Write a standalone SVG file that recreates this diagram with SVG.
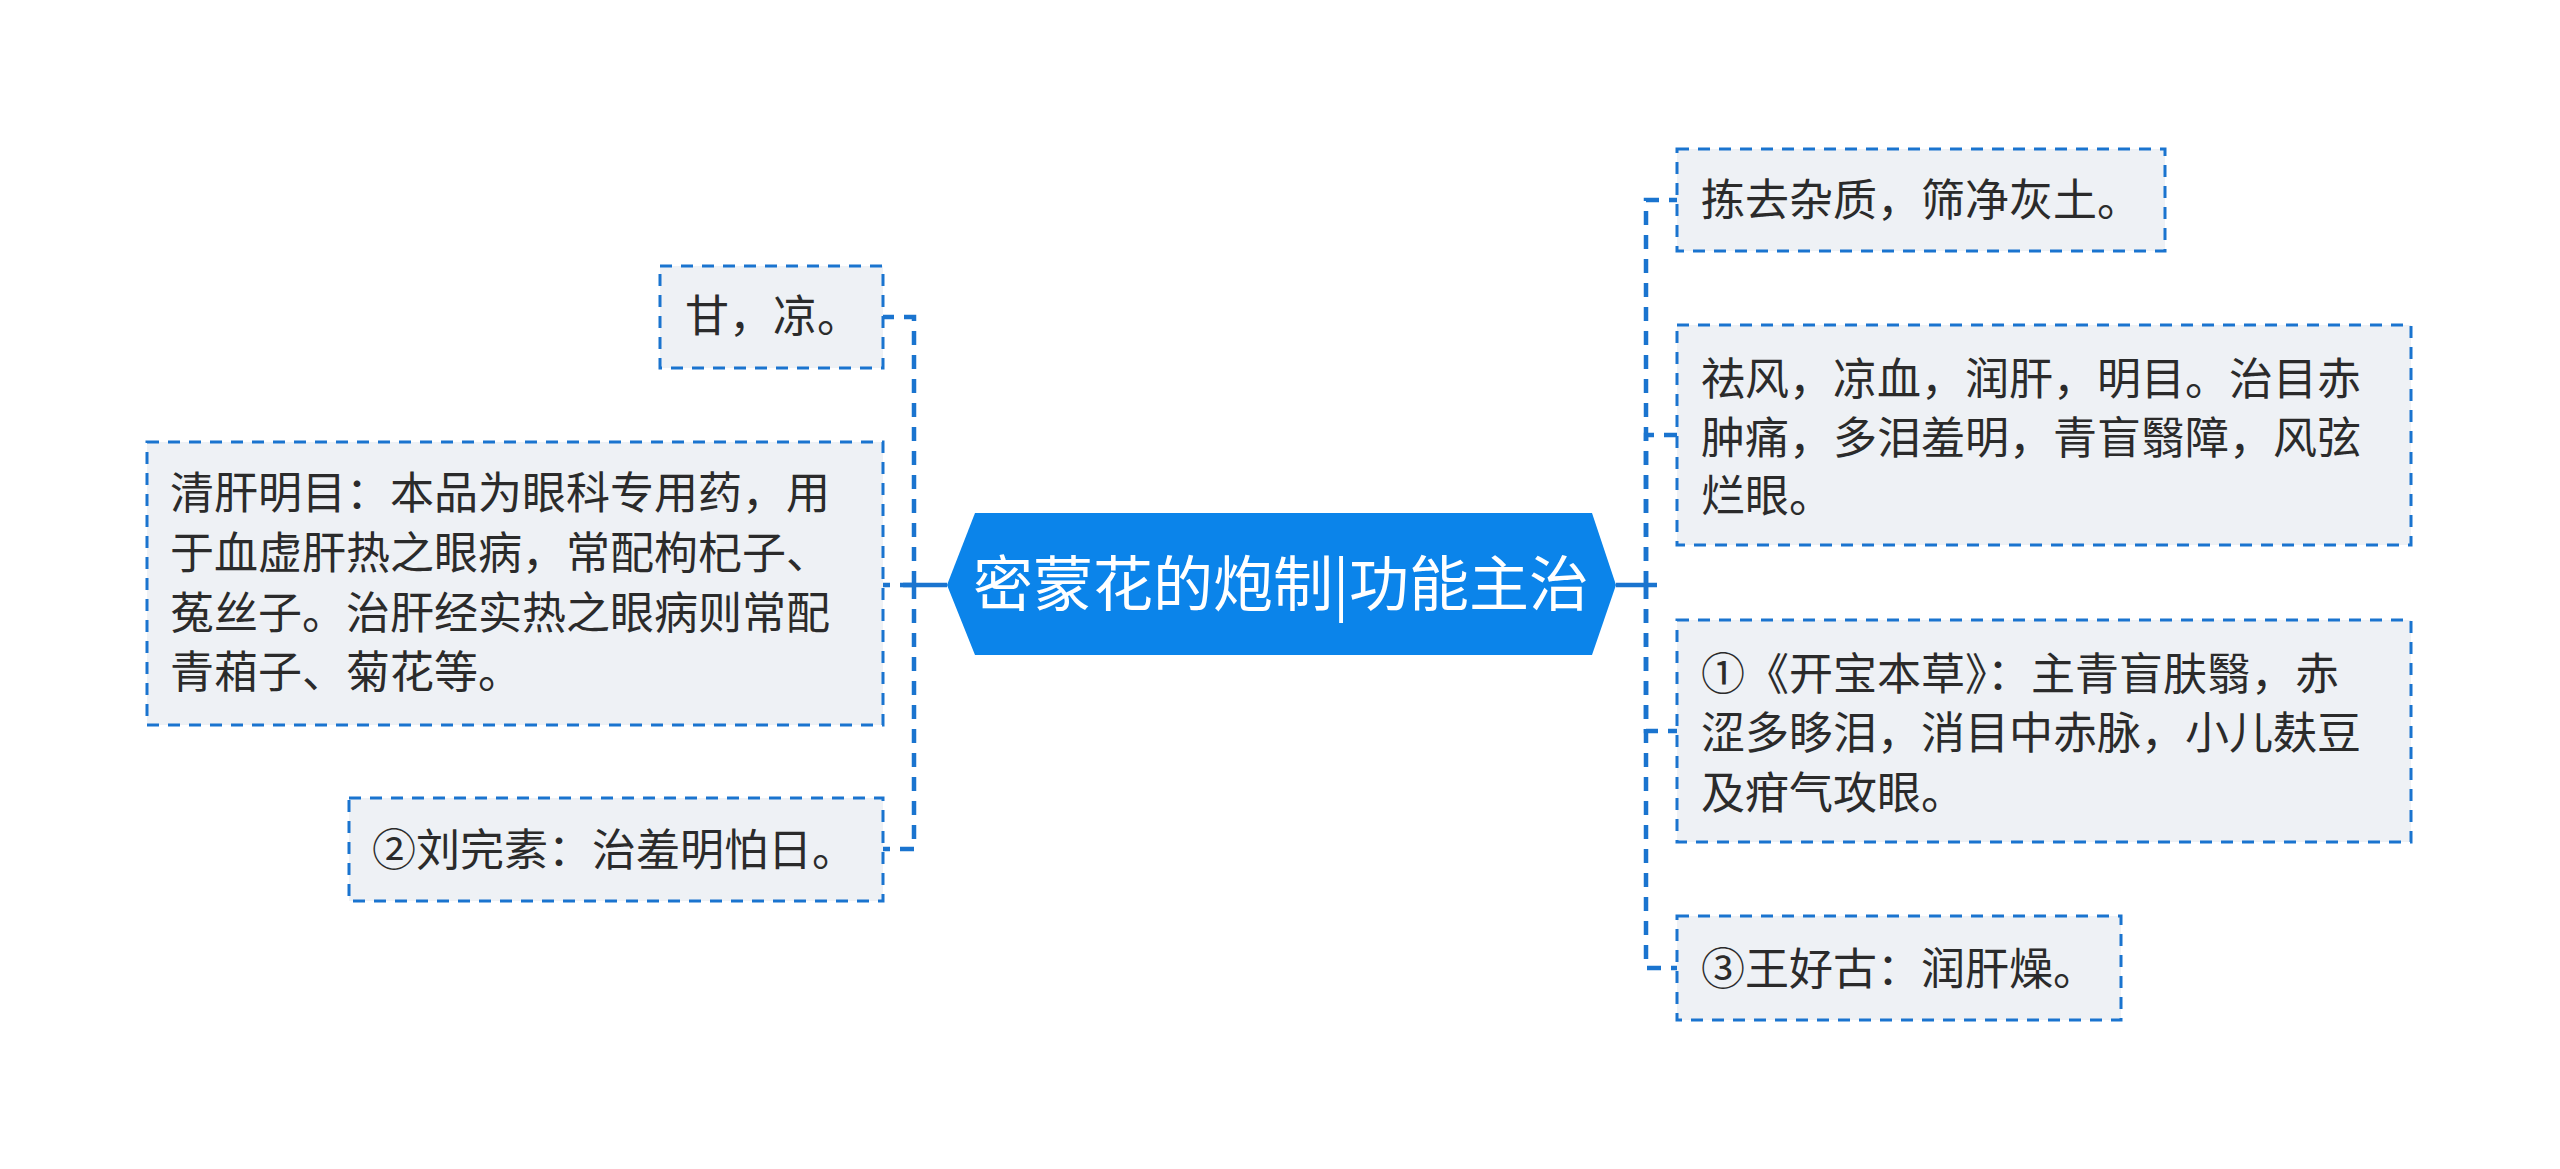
<svg xmlns="http://www.w3.org/2000/svg" width="2560" height="1169" viewBox="0 0 2560 1169">
<style>
.bg{fill:#ffffff}
.box{fill:#eef1f5;stroke:#1a74cf;stroke-width:3;stroke-dasharray:12 9}
.t{font-family:"Noto Sans CJK SC","Noto Sans",sans-serif;font-size:44px;fill:#2b2b2b}
.ct{font-family:"Noto Sans CJK SC","Noto Sans",sans-serif;font-size:60px;fill:#ffffff}
.dash{fill:none;stroke:#1a74cf;stroke-width:4.5;stroke-dasharray:14 10;stroke-linejoin:miter}
.solid{fill:none;stroke:#1a74cf;stroke-width:4.5}
</style>
<rect class="bg" x="0" y="0" width="2560" height="1169"/>
<g id="connectors">
  <path class="dash" d="M914,585 V317 H883"/>
  <path class="dash" d="M914,585 H883"/>
  <path class="dash" d="M914,585 V849 H883"/>
  <path class="solid" d="M947,585 H903"/>
  <path class="dash" d="M1646,585 V200 H1677"/>
  <path class="dash" d="M1646,585 V435 H1677"/>
  <path class="dash" d="M1646,585 V731 H1677"/>
  <path class="dash" d="M1646,585 V968 H1677"/>
  <path class="solid" d="M1616,585 H1657"/>
</g>
<g id="center">
  <polygon points="947,585 975,513 1592,513 1616,585 1592,655 975,655" fill="#0b84ea"/>
  <text class="ct" x="1281" y="606" text-anchor="middle">密蒙花的炮制|功能主治</text>
</g>
<g id="node-l1">
  <rect class="box" x="660" y="266" width="223" height="102"/>
  <text class="t" x="685" y="332">甘，凉。</text>
</g>
<g id="node-l2">
  <rect class="box" x="147" y="442" width="736" height="283"/>
  <text class="t" x="170" y="509">清肝明目：本品为眼科专用药，用</text>
  <text class="t" x="170" y="569">于血虚肝热之眼病，常配枸杞子、</text>
  <text class="t" x="170" y="629">菟丝子。治肝经实热之眼病则常配</text>
  <text class="t" x="170" y="688">青葙子、菊花等。</text>
</g>
<g id="node-l3">
  <rect class="box" x="349" y="798" width="534" height="103"/>
  <text class="t" x="372" y="866">②刘完素：治羞明怕日。</text>
</g>
<g id="node-r1">
  <rect class="box" x="1677" y="149" width="488" height="102"/>
  <text class="t" x="1701" y="216">拣去杂质，筛净灰土。</text>
</g>
<g id="node-r2">
  <rect class="box" x="1677" y="325" width="734" height="220"/>
  <text class="t" x="1701" y="395">祛风，凉血，润肝，明目。治目赤</text>
  <text class="t" x="1701" y="454">肿痛，多泪羞明，青盲翳障，风弦</text>
  <text class="t" x="1701" y="512">烂眼。</text>
</g>
<g id="node-r3">
  <rect class="box" x="1677" y="620" width="734" height="222"/>
  <text class="t" x="1701" y="690">①《开宝本草》：主青盲肤翳，赤</text>
  <text class="t" x="1701" y="749">涩多眵泪，消目中赤脉，小儿麸豆</text>
  <text class="t" x="1701" y="809">及疳气攻眼。</text>
</g>
<g id="node-r4">
  <rect class="box" x="1677" y="916" width="444" height="104"/>
  <text class="t" x="1701" y="985">③王好古：润肝燥。</text>
</g>
</svg>
